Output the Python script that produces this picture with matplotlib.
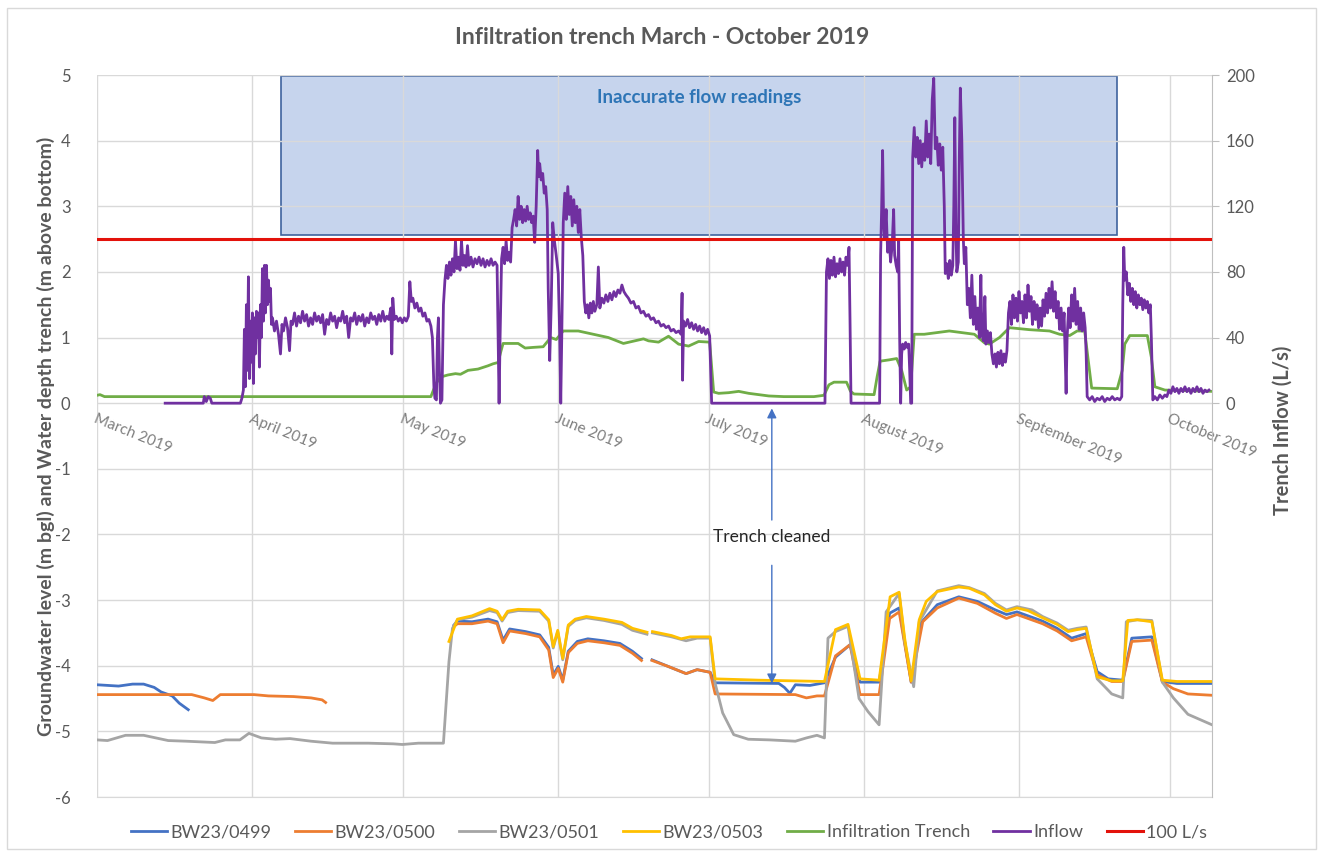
import matplotlib
matplotlib.use("Agg")
import matplotlib.pyplot as plt
import matplotlib.dates as mdates
from matplotlib.patches import Rectangle
import numpy as np
import pandas as pd

plt.rcParams['font.family'] = ['Lato', 'DejaVu Sans']
plt.rcParams['axes.unicode_minus'] = False

START = pd.Timestamp("2019-03-01")
X_END_DAY = 222.4

month_labels = ["March 2019", "April 2019", "May 2019", "June 2019",
                "July 2019", "August 2019", "September 2019", "October 2019"]

# groundwater levels (m bgl, negative) -- (days since 1 March, value); None = gap
bw0499 = [(0, -4.29), (4.3, -4.31), (7.1, -4.28), (9.3, -4.28), (11.4, -4.33), (12.8, -4.40),
          (15, -4.46), (16.4, -4.57), (18.2, -4.67), None,
          (71.2, -3.38), (71.9, -3.32), (74.8, -3.33), (78, -3.29), (79.8, -3.33), (81, -3.61),
          (82.3, -3.44), (85.5, -3.48), (88.3, -3.53), (90.1, -3.72), (91, -4.14), (92, -4.01),
          (92.9, -4.22), (94, -3.78), (95.8, -3.63), (97.9, -3.59), (101.1, -3.62), (104.3, -3.66),
          (106.8, -3.78), (108.6, -3.89), None,
          (110.7, -3.91), (113.9, -4.01), (117.5, -4.12), (119.7, -4.06), (122.3, -4.10),
          (123.3, -4.26), (136.0, -4.27), (137.1, -4.33), (138.2, -4.42), (139.3, -4.29),
          (142.2, -4.30), (145.1, -4.26), (147.3, -3.87), (150.2, -3.68), (152.2, -4.25),
          (156, -4.25), (158.1, -3.20), (160, -3.12), (162.4, -4.25), (164.3, -3.35),
          (167.6, -3.07), (171.9, -2.95), (175.6, -3.02), (179.2, -3.15), (181.4, -3.22),
          (183.5, -3.18), (188.6, -3.32), (191.5, -3.43), (194.4, -3.58), (197.3, -3.51),
          (199.5, -4.09), (201.7, -4.20), (204.6, -4.22), (206.4, -3.58), (210.4, -3.56),
          (212.5, -4.24), (215.4, -4.27), (222.4, -4.27)]

bw0500 = [(0, -4.44), (18.9, -4.44), (21.4, -4.49), (23.1, -4.53), (24.6, -4.44), (31.3, -4.44),
          (34.2, -4.46), (39.2, -4.47), (42.7, -4.49), (44.9, -4.52), (45.6, -4.56), None,
          (71.2, -3.40), (71.9, -3.36), (74.8, -3.36), (78, -3.32), (79.8, -3.36), (81, -3.65),
          (82.3, -3.47), (85.5, -3.51), (88.3, -3.56), (90.1, -3.76), (91, -4.18), (92, -4.04),
          (92.9, -4.25), (94, -3.80), (95.8, -3.66), (97.9, -3.62), (101.1, -3.65), (104.3, -3.69),
          (106.8, -3.81), (108.6, -3.92), None,
          (110.7, -3.92), (113.9, -4.01), (117.5, -4.12), (119.7, -4.06), (122.3, -4.10),
          (123.3, -4.43), (139.3, -4.44), (141.5, -4.49), (143.6, -4.46), (145.1, -4.46),
          (147.3, -3.85), (150.2, -3.68), (152.2, -4.44), (156, -4.44), (158.1, -3.28),
          (160, -3.18), (162.4, -4.25), (164.7, -3.33), (167.6, -3.12), (171.9, -2.97),
          (175.6, -3.05), (179.2, -3.20), (181.4, -3.28), (183.5, -3.22), (188.6, -3.36),
          (191.5, -3.47), (194.4, -3.62), (197.3, -3.56), (199.5, -4.14), (202.4, -4.24),
          (204.6, -4.24), (206.4, -3.63), (210.4, -3.61), (212.5, -4.25), (214.7, -4.35),
          (217.6, -4.43), (222.4, -4.45)]

bw0501 = [(0, -5.13), (2.1, -5.14), (5.7, -5.06), (9.3, -5.06), (14.2, -5.14), (17.8, -5.15),
          (23.5, -5.17), (25.6, -5.13), (28.5, -5.13), (30.3, -5.03), (32.8, -5.10), (35.6, -5.12),
          (38.5, -5.11), (42.7, -5.15), (47, -5.18), (54.1, -5.18), (59.1, -5.19), (60.9, -5.20),
          (64.1, -5.18), (69.1, -5.18), (70.2, -3.94), (70.9, -3.43), (71.9, -3.30), (74.8, -3.26),
          (78.3, -3.16), (79.8, -3.19), (80.8, -3.32), (81.9, -3.19), (84, -3.16), (88.3, -3.17),
          (90.1, -3.32), (91, -3.73), (91.9, -3.48), (92.9, -3.91), (94, -3.40), (95.4, -3.31),
          (97.6, -3.27), (101.1, -3.31), (104.7, -3.37), (106.8, -3.46), (109.7, -3.52), None,
          (110.8, -3.50), (114.6, -3.56), (117.5, -3.62), (119.7, -3.58), (122.3, -3.58),
          (123.3, -4.27), (124.8, -4.72), (127, -5.05), (129.9, -5.12), (134.2, -5.13),
          (139.3, -5.15), (141.5, -5.10), (143.6, -5.06), (145.1, -5.10), (145.8, -3.58),
          (147.3, -3.48), (149.8, -3.40), (152, -4.50), (153.8, -4.70), (156, -4.90),
          (157.4, -3.18), (160, -2.90), (161.1, -3.63), (162.9, -4.32), (164, -3.33),
          (167.6, -2.86), (171.9, -2.78), (174, -2.81), (177, -2.90), (179.2, -3.05),
          (181.4, -3.15), (183.5, -3.10), (186.5, -3.15), (188.6, -3.25), (191.5, -3.35),
          (193.7, -3.46), (195.5, -3.43), (197.3, -3.41), (199.5, -4.20), (202.4, -4.43),
          (204.6, -4.49), (205.3, -3.33), (207.5, -3.30), (210.4, -3.31), (212.5, -4.25),
          (214.7, -4.49), (217.6, -4.74), (222.4, -4.90)]

bw0503 = [(70.2, -3.63), (71.9, -3.29), (74.8, -3.24), (78.3, -3.13), (79.8, -3.17), (80.8, -3.30),
          (81.9, -3.17), (84, -3.14), (88.3, -3.15), (90.1, -3.30), (91, -3.71), (91.9, -3.46),
          (92.9, -3.89), (94, -3.38), (95.4, -3.29), (97.6, -3.25), (101.1, -3.29), (104.7, -3.34),
          (106.8, -3.43), (109.7, -3.49), None,
          (110.8, -3.48), (114.6, -3.54), (116.5, -3.59), (118.3, -3.56), (122.3, -3.56),
          (123.3, -4.20), (132, -4.22), (145.1, -4.24), (147.3, -3.45), (149.8, -3.37),
          (152.2, -4.20), (156, -4.22), (158.2, -2.95), (160, -2.88), (161.1, -3.58),
          (162.4, -4.23), (164, -3.30), (165.4, -3.02), (167.6, -2.87), (171.9, -2.80),
          (174, -2.82), (177, -2.92), (179.2, -3.07), (181.4, -3.17), (183.5, -3.12),
          (185.7, -3.16), (188.6, -3.27), (191.5, -3.37), (193.7, -3.48), (195.5, -3.45),
          (197.3, -3.43), (199.5, -4.17), (202.4, -4.23), (204.6, -4.23), (205.6, -3.31),
          (207.5, -3.30), (210.4, -3.33), (212.5, -4.22), (215.4, -4.24), (222.4, -4.24)]

# water depth in trench (m above bottom)
trench = [(0, 0.12), (0.6, 0.13), (1.5, 0.10), (66.6, 0.10), (67.6, 0.30), (68.6, 0.40), (70, 0.43),
          (71.5, 0.45), (72.5, 0.44), (74, 0.50), (76, 0.52), (78, 0.57), (79, 0.60), (80, 0.62),
          (80.6, 0.80), (81, 0.91), (84, 0.91), (85.4, 0.84), (87, 0.85), (89, 0.86), (90.5, 1.00),
          (91.6, 0.97), (93, 1.10), (96, 1.10), (99, 1.05), (102, 1.00), (105, 0.91), (109, 0.98),
          (110, 0.95), (112, 0.93), (114, 1.02), (116, 0.90), (118, 0.87), (120, 0.94),
          (122.2, 0.93), (123, 0.17), (124, 0.15), (126, 0.16), (128, 0.18), (130, 0.15),
          (132, 0.13), (134, 0.11), (137, 0.10), (143, 0.10), (145, 0.12), (146, 0.28),
          (147, 0.32), (149.5, 0.32), (150.3, 0.18), (151, 0.14), (155, 0.13), (155.6, 0.40),
          (156.2, 0.64), (158, 0.66), (159.5, 0.68), (160.5, 0.50), (161.5, 0.20), (162.3, 0.25),
          (163, 1.05), (165, 1.05), (167, 1.07), (170, 1.10), (173, 1.07), (175, 1.05),
          (177, 0.92), (178, 0.90), (180, 1.00), (182, 1.15), (186, 1.12), (190, 1.10),
          (192, 1.05), (194, 1.03), (195.5, 1.10), (197, 1.10), (197.8, 0.60), (198.4, 0.23),
          (203.5, 0.22), (204.5, 0.50), (205, 0.90), (206, 1.03), (209.5, 1.03), (210.3, 0.70),
          (211, 0.25), (213, 0.20), (222.4, 0.18)]

# trench inflow (L/s)
inflow = [(13.6, 0), (21.2, 0), (21.4, 4), (21.8, 1), (22.2, 4), (22.6, 3), (22.9, 0), (28.6, 0),
          (28.9, 3), (29.2, 8), (29.4, 45), (29.6, 10), (29.8, 60), (30.0, 20), (30.2, 77),
          (30.4, 15), (30.6, 50), (30.8, 25), (31.0, 55), (31.2, 12), (31.4, 52), (31.6, 30),
          (31.8, 56), (32.0, 40), (32.2, 55), (32.4, 22), (32.6, 60), (32.8, 40), (33.0, 82),
          (33.2, 50), (33.4, 84), (33.6, 55), (33.8, 84), (34.0, 60), (34.2, 75), (34.4, 62),
          (34.6, 70), (34.8, 48), (35.0, 52), (35.4, 44), (35.8, 50), (36.2, 42), (36.6, 30),
          (36.9, 48), (37.2, 44), (37.6, 52), (38.0, 46), (38.4, 32), (38.7, 50), (39.0, 48),
          (39.4, 55), (39.8, 47), (40.2, 53), (40.6, 49), (41.0, 56), (41.4, 50), (41.8, 54),
          (42.2, 47), (42.6, 52), (43.0, 48), (43.4, 55), (43.8, 50), (44.2, 53), (44.6, 49),
          (45.0, 54), (45.4, 42), (45.8, 51), (46.2, 48), (46.6, 55), (47.0, 50), (47.4, 53),
          (47.8, 46), (48.2, 52), (48.6, 50), (49.0, 56), (49.4, 49), (49.8, 53), (50.2, 40),
          (50.6, 52), (51.0, 50), (51.4, 55), (51.8, 48), (52.2, 53), (52.6, 50), (53.0, 54),
          (53.4, 47), (53.8, 52), (54.2, 49), (54.6, 55), (55.0, 51), (55.4, 53), (55.8, 48),
          (56.2, 54), (56.6, 50), (57.0, 56), (57.4, 50), (57.8, 53), (58.2, 51), (58.6, 58),
          (58.8, 30), (59.0, 64), (59.3, 51), (59.7, 53), (60.1, 50), (60.5, 52), (60.9, 49),
          (61.3, 52), (61.7, 50), (62.1, 53), (62.4, 74), (62.7, 62), (63.0, 64), (63.4, 58),
          (63.8, 61), (64.2, 56), (64.6, 58), (65.0, 53), (65.4, 55), (65.8, 50), (66.2, 51),
          (66.6, 47), (66.9, 40), (67.2, 10), (67.4, 3), (67.7, 2), (67.9, 40), (68.1, 52),
          (68.3, 20), (68.5, 0), (68.8, 2), (69.1, 60), (69.4, 75), (69.7, 84), (70.0, 76),
          (70.3, 86), (70.6, 78), (70.9, 88), (71.2, 80), (71.5, 99), (71.8, 82), (72.1, 89),
          (72.4, 81), (72.7, 99), (73.0, 84), (73.3, 90), (73.6, 83), (73.9, 96), (74.2, 84),
          (74.6, 89), (75.0, 83), (75.4, 88), (75.8, 85), (76.2, 89), (76.6, 84), (77.0, 88),
          (77.4, 83), (77.8, 87), (78.2, 84), (78.6, 88), (79.0, 84), (79.4, 86), (79.8, 84),
          (80.0, 40), (80.2, 0), (80.4, 40), (80.7, 88), (81.0, 95), (81.3, 85), (81.6, 99),
          (81.9, 87), (82.2, 92), (82.5, 86), (82.8, 107), (83.1, 112), (83.4, 118), (83.7, 108),
          (84.0, 126), (84.3, 112), (84.6, 120), (84.9, 110), (85.2, 118), (85.5, 111),
          (85.8, 120), (86.1, 112), (86.4, 116), (86.7, 110), (87.0, 114), (87.3, 98),
          (87.6, 120), (87.9, 154), (88.1, 138), (88.3, 146), (88.6, 136), (88.9, 140),
          (89.2, 128), (89.5, 132), (89.8, 118), (90.0, 70), (90.3, 26), (90.6, 60), (90.9, 110),
          (91.2, 100), (91.6, 90), (92.0, 79), (92.3, 40), (92.5, 0), (92.7, 40), (93.0, 110),
          (93.3, 128), (93.6, 112), (93.9, 132), (94.2, 115), (94.5, 126), (94.8, 108),
          (95.1, 124), (95.4, 110), (95.7, 120), (96.0, 104), (96.3, 118), (96.6, 101),
          (96.9, 90), (97.2, 62), (97.5, 55), (97.8, 60), (98.1, 52), (98.4, 61), (98.7, 55),
          (99.0, 62), (99.3, 56), (99.7, 60), (100.0, 83), (100.3, 58), (100.7, 64), (101.1, 61),
          (101.5, 66), (101.9, 62), (102.3, 67), (102.7, 63), (103.1, 68), (103.5, 65),
          (103.9, 69), (104.3, 67), (104.7, 72), (105.1, 68), (105.5, 66), (106.0, 64),
          (106.5, 61), (107.0, 62), (107.5, 58), (108.0, 59), (108.5, 55), (109.0, 56),
          (109.5, 53), (110.0, 54), (110.5, 51), (111.0, 52), (111.5, 49), (112.0, 50),
          (112.5, 47), (113.0, 48), (113.5, 46), (114.0, 47), (114.5, 44), (115.0, 45),
          (115.5, 43), (116.0, 44), (116.5, 42), (116.7, 67), (116.8, 14), (117.0, 50),
          (117.4, 47), (117.8, 51), (118.2, 46), (118.6, 49), (119.0, 45), (119.4, 48),
          (119.8, 44), (120.2, 47), (120.6, 43), (121.0, 46), (121.4, 42), (121.8, 45),
          (122.2, 41), (122.4, 20), (122.6, 0), (145.2, 0), (145.5, 80), (145.8, 88), (146.1, 76),
          (146.4, 87), (146.7, 78), (147.0, 89), (147.3, 77), (147.6, 85), (147.9, 79),
          (148.2, 88), (148.5, 80), (148.8, 86), (149.1, 78), (149.4, 89), (149.7, 84),
          (150.0, 95), (150.2, 50), (150.4, 0), (156.1, 0), (156.3, 90), (156.5, 118),
          (156.7, 154), (156.9, 110), (157.1, 100), (157.4, 118), (157.7, 92), (158.0, 99),
          (158.3, 86), (158.6, 96), (158.9, 118), (159.1, 90), (159.4, 84), (159.7, 80),
          (159.9, 99), (160.1, 40), (160.3, 0), (160.5, 30), (160.7, 36), (161.0, 33),
          (161.3, 37), (161.6, 34), (161.9, 36), (162.1, 20), (162.3, 0), (162.5, 0),
          (162.7, 150), (163.0, 168), (163.3, 150), (163.6, 162), (163.9, 146), (164.2, 160),
          (164.5, 144), (164.8, 158), (165.1, 148), (165.4, 172), (165.7, 150), (166.0, 164),
          (166.3, 146), (166.6, 185), (166.9, 198), (167.2, 155), (167.5, 162), (167.8, 145),
          (168.1, 158), (168.4, 142), (168.7, 156), (169.0, 120), (169.2, 79), (169.5, 85),
          (169.8, 76), (170.1, 87), (170.4, 78), (170.7, 84), (170.9, 120), (171.1, 174),
          (171.3, 110), (171.5, 80), (171.8, 86), (172.0, 150), (172.2, 192), (172.5, 160),
          (172.8, 100), (173.0, 85), (173.3, 95), (173.6, 60), (173.9, 70), (174.2, 52),
          (174.5, 78), (174.8, 48), (175.1, 65), (175.4, 45), (175.7, 58), (176.0, 40),
          (176.3, 78), (176.5, 42), (176.8, 38), (177.1, 65), (177.3, 36), (177.6, 44),
          (177.9, 37), (178.2, 43), (178.5, 30), (178.8, 24), (179.1, 30), (179.4, 22),
          (179.7, 31), (180.0, 24), (180.3, 32), (180.6, 23), (180.9, 30), (181.2, 25),
          (181.5, 32), (181.8, 55), (182.1, 62), (182.4, 48), (182.7, 66), (183.0, 52),
          (183.3, 64), (183.6, 50), (183.9, 68), (184.2, 55), (184.5, 62), (184.8, 49),
          (185.1, 66), (185.4, 52), (185.7, 72), (186.0, 56), (186.3, 65), (186.6, 48),
          (186.9, 62), (187.2, 51), (187.5, 60), (187.8, 46), (188.1, 58), (188.4, 47),
          (188.7, 63), (189.0, 53), (189.3, 67), (189.6, 55), (189.9, 70), (190.2, 58),
          (190.5, 74), (190.8, 56), (191.1, 68), (191.4, 52), (191.7, 62), (192.0, 45),
          (192.3, 58), (192.6, 44), (192.9, 55), (193.1, 30), (193.3, 6), (193.5, 40),
          (193.8, 58), (194.1, 46), (194.4, 66), (194.7, 50), (195.0, 70), (195.3, 48),
          (195.6, 62), (195.9, 45), (196.2, 58), (196.5, 44), (196.8, 55), (197.1, 46),
          (197.3, 30), (197.5, 4), (198.0, 2), (198.5, 4), (199.0, 1), (199.5, 3), (200.0, 2),
          (200.5, 4), (201.0, 1), (201.5, 3), (202.0, 2), (202.5, 4), (203.0, 2), (203.5, 3),
          (204.0, 2), (204.4, 4), (204.6, 60), (204.8, 95), (205.0, 75), (205.3, 80), (205.6, 66),
          (205.9, 73), (206.2, 62), (206.5, 70), (206.8, 60), (207.1, 68), (207.4, 58),
          (207.7, 66), (208.0, 60), (208.3, 64), (208.6, 57), (208.9, 63), (209.2, 58),
          (209.5, 62), (209.8, 55), (210.1, 60), (210.3, 40), (210.6, 2), (211.0, 4), (211.5, 2),
          (212.0, 5), (212.5, 3), (213.0, 5), (213.4, 4), (213.8, 8), (214.2, 6), (214.6, 10),
          (215.0, 7), (215.4, 9), (215.8, 6), (216.2, 9), (216.6, 7), (217.0, 10), (217.4, 7),
          (217.8, 9), (218.2, 6), (218.6, 9), (219.0, 7), (219.4, 10), (219.8, 7), (220.2, 9),
          (220.6, 6), (221.0, 8), (221.4, 7), (221.8, 8)]

flow_limit = 100  # L/s
box_days = (36.7, 203.4)      # "inaccurate flow readings" period
box_levels = (2.56, 4.98)
cleaned_day = 134.6


def to_series(points):
    # None entries become NaN so the line breaks there
    days, vals = [], []
    for p in points:
        if p is None:
            days.append(days[-1] + 0.01)
            vals.append(np.nan)
        else:
            days.append(p[0])
            vals.append(p[1])
    t = START + pd.to_timedelta(np.array(days), unit="D")
    return t, np.array(vals, dtype=float)


grey_txt = '#595959'
fig = plt.figure(figsize=(13.25, 8.57), dpi=100)
fig.patches.append(Rectangle((7 / 1325, 8 / 857), 1309 / 1325, 841 / 857, transform=fig.transFigure,
                             fill=False, edgecolor='#d9d9d9', lw=1))
ax = fig.add_axes([97 / 1325, 1 - 797 / 857, 1115 / 1325, 722 / 857])
ax2 = ax.twinx()

ax.set_ylim(-6, 5)
ax2.set_ylim(-240, 200)
x0, x1 = START, START + pd.Timedelta(days=X_END_DAY)
ax.set_xlim(x0, x1)

month_starts = pd.date_range(START, periods=len(month_labels), freq="MS")
ax.set_xticks(month_starts)
ax.set_xticklabels([])
ax.tick_params(axis='x', length=0)
ax.set_yticks(np.arange(-6, 6, 1))
ax.tick_params(axis='y', length=0, labelsize=12, labelcolor=grey_txt, pad=19)
ax.grid(True, color='#d9d9d9', lw=1)
for s in ['top', 'left', 'right']:
    ax.spines[s].set_visible(False)
ax.spines['bottom'].set_color('#d9d9d9')

ax2.set_yticks(np.arange(0, 201, 40))
ax2.tick_params(axis='y', length=5, color='#bfbfbf', labelsize=12, labelcolor=grey_txt, pad=5)
for s in ['top', 'left', 'bottom']:
    ax2.spines[s].set_visible(False)
ax2.spines['right'].set_color('#bfbfbf')

# month labels sit on the zero line, slanted
for d, lab in zip(month_starts, month_labels):
    ax.text(d, -0.13, lab, rotation=-22, rotation_mode='anchor', ha='left', va='top',
            fontsize=11, color='#7f7f7f')

box_x = mdates.date2num(START + pd.Timedelta(days=box_days[0]))
ax.add_patch(Rectangle((box_x, box_levels[0]), box_days[1] - box_days[0],
                       box_levels[1] - box_levels[0],
                       facecolor='#4472c4', alpha=0.3, edgecolor='none', zorder=1))
ax.add_patch(Rectangle((box_x, box_levels[0]), box_days[1] - box_days[0],
                       box_levels[1] - box_levels[0],
                       facecolor='none', edgecolor='#3f639e', lw=1.2, zorder=1.5))
ax.text(START + pd.Timedelta(days=sum(box_days) / 2), 4.65, "Inaccurate flow readings",
        ha='center', va='center', fontsize=13.5, fontweight='bold', color='#2e75b6')

lw = 2
handles = []
for pts, col, lab in [(bw0499, '#4472c4', 'BW23/0499'), (bw0500, '#ed7d31', 'BW23/0500'),
                      (bw0501, '#a5a5a5', 'BW23/0501'), (bw0503, '#ffc000', 'BW23/0503'),
                      (trench, '#70ad47', 'Infiltration Trench')]:
    t, v = to_series(pts)
    h, = ax.plot(t, v, color=col, lw=lw, label=lab, zorder=3)
    handles.append(h)

t, v = to_series(inflow)
h, = ax2.plot(t, v, color='#7030a0', lw=2, label='Inflow', zorder=3)
handles.append(h)
h = ax2.axhline(flow_limit, color='#e3120b', lw=2.2, label='100 L/s', zorder=4)
handles.append(h)

# trench cleaned annotation
cx = START + pd.Timedelta(days=cleaned_day)
ax.text(cx, -2.04, "Trench cleaned", ha='center', va='center', fontsize=12.5, color='#262626')
arrow = dict(arrowstyle='-|>', color='#4472c4', lw=1, mutation_scale=14, shrinkA=0, shrinkB=0)
ax.annotate("", xy=(cx, -0.08), xytext=(cx, -1.78), arrowprops=arrow)
ax.annotate("", xy=(cx, -4.27), xytext=(cx, -2.47), arrowprops=arrow)

fig.text(46 / 1325, 1 - 436 / 857,
         "Groundwater level (m bgl) and Water depth trench (m above bottom)",
         rotation=90, ha='center', va='center', fontsize=14, fontweight='bold', color=grey_txt)
fig.text(1283 / 1325, 1 - 430 / 857, "Trench Inflow (L/s)", rotation=90, ha='center',
         va='center', fontsize=14.5, fontweight='bold', color=grey_txt)
fig.suptitle("Infiltration trench March - October 2019", x=0.5, y=1 - 38 / 857, va='center',
             fontsize=16.5, fontweight='bold', color=grey_txt)

fig.legend(handles=handles, loc='center', bbox_to_anchor=(0.505, 1 - 832 / 857), ncol=7,
           frameon=False, fontsize=13, handlelength=2.0, handletextpad=0.2, columnspacing=1.3,
           labelcolor=grey_txt)

fig.savefig("out.png", dpi=100)
